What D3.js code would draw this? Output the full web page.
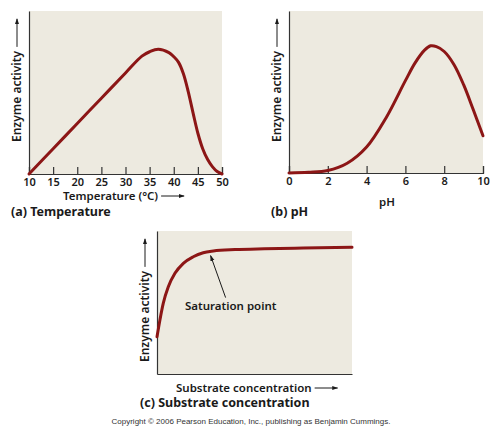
<!DOCTYPE html>
<html>
<head>
<meta charset="utf-8">
<script src="https://cdn.jsdelivr.net/npm/d3@7"></script>
<style>
  body { margin: 0; background: #fff; }
  text { font-family: "Noto Sans", "DejaVu Sans", sans-serif; fill: #1a1a1a; }
</style>
</head>
<body>
<script>
// (a) temperature
const tempC = [10, 15, 20, 25, 30, 33.4, 35, 36.8, 39, 40, 41, 42, 43, 44, 45, 46, 47, 48, 49, 50]
const tempActivity = [0, 15.5, 31, 46.5, 62, 72.3, 75, 76.5, 74.5, 72, 68.5, 61.5, 50.5, 37.5, 25, 15.5, 9, 4.5, 1.5, 0]
const tempTicks = [10, 15, 20, 25, 30, 35, 40, 45, 50]

// (b) pH
const phValues = [0, 1, 2, 3, 4, 5, 6, 6.5, 7, 7.3, 7.6, 8, 8.5, 9, 9.5, 10]
const phActivity = [0, 0.4, 1.5, 6, 16, 34, 57, 68, 76, 78.5, 78, 75, 67, 54.5, 39, 23]
const phTicks = [0, 2, 4, 6, 8, 10]

// (c) substrate concentration
const substrateConc = [0, 1.5, 3.2, 5.8, 9.2, 13.5, 18.6, 23.7, 28.9, 40, 55, 75, 100]
const substrateActivity = [26, 37.8, 49.4, 61, 70.4, 77.4, 82, 84.8, 86, 87, 87.6, 88.1, 88.6]
const saturationPoint = [28, 86.3]

const curveColor = '#8c1616'
const plotFill = '#edeae0'
const labelSize = '11.5px'

const svg = d3.select('body').append('svg')
  .attr('width', 500)
  .attr('height', 435)

svg.append('defs').append('marker')
  .attr('id', 'head')
  .attr('viewBox', '0 0 10 10')
  .attr('refX', 9).attr('refY', 5)
  .attr('markerWidth', 6).attr('markerHeight', 6)
  .attr('orient', 'auto')
  .append('path')
    .attr('d', 'M0,1.5L10,5L0,8.5Z')
    .attr('fill', '#1a1a1a')

function drawPanel (cfg) {
  const x = d3.scaleLinear().domain(cfg.xDomain).range([cfg.left, cfg.right])
  const y = d3.scaleLinear().domain([0, 100]).range([cfg.bottom, cfg.top])
  const g = svg.append('g')

  g.append('rect')
    .attr('x', cfg.left).attr('y', cfg.top)
    .attr('width', cfg.right - cfg.left)
    .attr('height', cfg.bottom - cfg.top)
    .attr('fill', plotFill)

  const xAxis = d3.axisBottom(x).tickSizeOuter(0)
  if (cfg.ticks) {
    xAxis.tickValues(cfg.ticks).tickSize(-7).tickPadding(4)
  } else {
    xAxis.tickValues([]).tickSize(0)
  }
  const xg = g.append('g')
    .attr('transform', `translate(0,${cfg.bottom})`)
    .call(xAxis)
  xg.select('.domain').attr('stroke', '#333').attr('stroke-width', 1.2)
  xg.selectAll('.tick line').attr('stroke', '#333').attr('stroke-width', 1.2)
  xg.selectAll('.tick text')
    .attr('fill', '#1a1a1a')
    .style('font-size', '11px')
    .style('font-weight', 600)
    .style('font-family', '"Noto Sans", sans-serif')

  const yg = g.append('g')
    .attr('transform', `translate(${cfg.left},0)`)
    .call(d3.axisLeft(y).tickValues([]).tickSizeOuter(0))
  yg.select('.domain').attr('stroke', '#333').attr('stroke-width', 1.2)

  g.append('path')
    .datum(d3.zip(cfg.xs, cfg.ys))
    .attr('fill', 'none')
    .attr('stroke', curveColor)
    .attr('stroke-width', 3)
    .attr('stroke-linecap', 'round')
    .attr('d', d3.line()
      .x(d => x(d[0]))
      .y(d => y(d[1]))
      .curve(cfg.curve))

  // y label with arrow
  const ly = g.append('g')
    .attr('transform', `translate(${cfg.left - 12},${cfg.yLabelBase}) rotate(-90)`)
  const yt = ly.append('text')
    .attr('x', 0).attr('y', 4)
    .style('font-size', '12px')
    .style('font-weight', 600)
    .text('Enzyme activity')
  const yw = yt.node().getComputedTextLength()
  ly.append('line')
    .attr('x1', yw + 4).attr('x2', yw + 32)
    .attr('y1', 0).attr('y2', 0)
    .attr('stroke', '#1a1a1a').attr('stroke-width', 1)
    .attr('marker-end', 'url(#head)')

  // x label
  const xl = g.append('text')
    .attr('x', cfg.xLabelX).attr('y', cfg.xLabelY)
    .attr('text-anchor', cfg.xArrow ? 'start' : 'middle')
    .style('font-size', labelSize)
    .style('font-weight', 600)
    .text(cfg.xLabel)
  if (cfg.xArrow) {
    const w = xl.node().getComputedTextLength()
    g.append('line')
      .attr('x1', cfg.xLabelX + w + 3).attr('x2', cfg.xLabelX + w + 26)
      .attr('y1', cfg.xLabelY - 4).attr('y2', cfg.xLabelY - 4)
      .attr('stroke', '#1a1a1a').attr('stroke-width', 1)
      .attr('marker-end', 'url(#head)')
  }

  // panel caption
  g.append('text')
    .attr('x', cfg.capX).attr('y', cfg.capY)
    .style('font-size', '12.5px')
    .style('font-weight', 700)
    .text(cfg.caption)

  return { g, x, y }
}

drawPanel({
  left: 29, right: 222, top: 11, bottom: 174,
  xDomain: [10, 50], ticks: tempTicks,
  xs: tempC, ys: tempActivity, curve: d3.curveCatmullRom.alpha(0.5),
  yLabelBase: 142,
  xLabel: 'Temperature (°C)', xLabelX: 63, xLabelY: 200, xArrow: true,
  caption: '(a)  Temperature', capX: 11, capY: 216
})

drawPanel({
  left: 289, right: 483, top: 11, bottom: 173,
  xDomain: [0, 10], ticks: phTicks,
  xs: phValues, ys: phActivity, curve: d3.curveCatmullRom.alpha(0.5),
  yLabelBase: 142,
  xLabel: 'pH', xLabelX: 387, xLabelY: 206, xArrow: false,
  caption: '(b)  pH', capX: 271, capY: 216
})

const pc = drawPanel({
  left: 157, right: 352, top: 231, bottom: 374,
  xDomain: [0, 100], ticks: null,
  xs: substrateConc, ys: substrateActivity, curve: d3.curveMonotoneX,
  yLabelBase: 362,
  xLabel: 'Substrate concentration', xLabelX: 176, xLabelY: 392, xArrow: true,
  caption: '(c)  Substrate concentration', capX: 140, capY: 407
})

// saturation annotation
const tipX = pc.x(saturationPoint[0]) - 1
const tipY = pc.y(saturationPoint[1]) + 5
pc.g.append('line')
  .attr('x1', tipX + 15).attr('y1', tipY + 42)
  .attr('x2', tipX).attr('y2', tipY)
  .attr('stroke', '#1a1a1a').attr('stroke-width', 1)
  .attr('marker-end', 'url(#head)')
pc.g.append('text')
  .attr('x', 185).attr('y', 310)
  .style('font-size', labelSize)
  .style('font-weight', 600)
  .text('Saturation point')

svg.append('text')
  .attr('x', 251).attr('y', 424)
  .attr('text-anchor', 'middle')
  .style('font-family', '"Liberation Sans", Arial, sans-serif')
  .style('font-size', '8px')
  .style('fill', '#333')
  .text('Copyright © 2006 Pearson Education, Inc., publishing as Benjamin Cummings.')
</script>
</body>
</html>
